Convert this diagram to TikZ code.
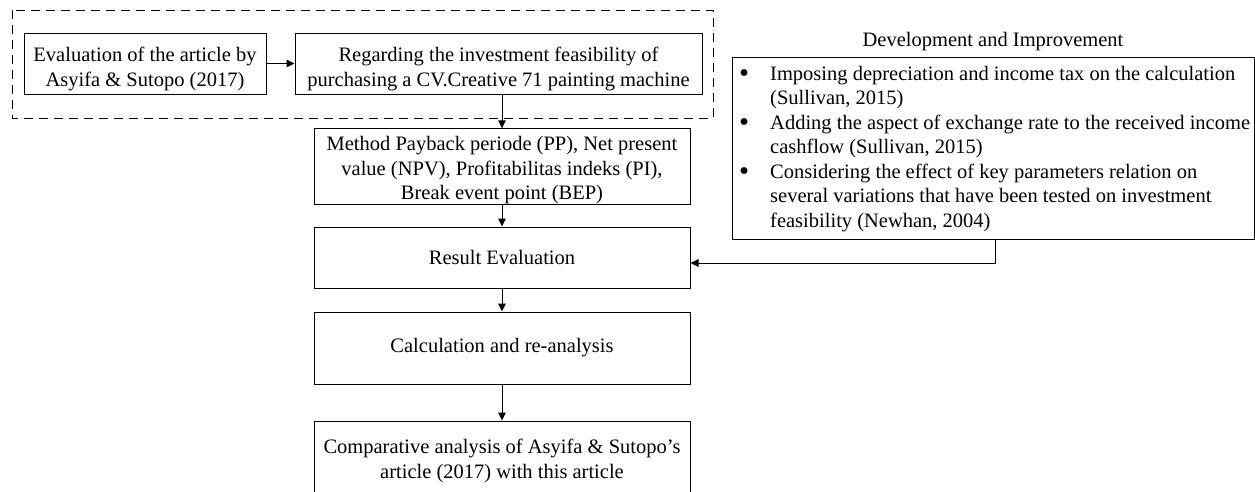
\documentclass[tikz,border=0pt]{standalone}
\usepackage{fontspec}
\setmainfont{Liberation Serif}
\usetikzlibrary{arrows.meta,calc}
\newcommand{\bigbul}{\raisebox{-2.2pt}{\scalebox{1.4}{\textbullet}}}
\begin{document}
\begin{tikzpicture}[x=1pt,y=-1pt,
  every node/.style={font=\fontsize{20.5}{24.5}\selectfont},
  stepbox/.style={draw=black,line width=1pt,rectangle,inner sep=0pt,align=center},
  arr/.style={draw=black,line width=1pt,-{Triangle[length=8pt,width=7.5pt]}},
  dashbox/.style={draw=black,line width=1pt,dash pattern=on 9pt off 6pt}
]
\useasboundingbox (0,0) rectangle (1255,491);
% dashed group
\draw[dashbox] (12,10) rectangle (713,118);
\node[stepbox,minimum width=242pt,minimum height=61pt] (eval) at (145,63.5)
  {\rule{0pt}{25pt}Evaluation of the article by\\Asyifa \& Sutopo (2017)};
\node[stepbox,minimum width=407pt,minimum height=61pt] (regard) at (498.5,63.5)
  {\rule{0pt}{25pt}Regarding the investment feasibility of\\purchasing a CV.Creative 71 painting machine};
\node[stepbox,minimum width=376pt,minimum height=73pt] (method) at (502,166.5)
  {\rule{0pt}{22pt}Method Payback periode (PP), Net present\\value (NPV), Profitabilitas indeks (PI),\\Break event point (BEP)};
\node[stepbox,minimum width=376pt,minimum height=61pt] (result) at (502,257.5)
  {Result Evaluation};
\node[stepbox,minimum width=376pt,minimum height=72pt] (calc) at (502,348)
  {Calculation and re-analysis};
\node[stepbox,minimum width=376pt,minimum height=72pt] (comp) at (502,457)
  {\rule{0pt}{22pt}Comparative analysis of Asyifa \& Sutopo’s\\article (2017) with this article};
% development box
\node (devtitle) at (993,42) {Development and Improvement};
\node[draw=black,line width=1pt,rectangle,inner sep=0pt,minimum width=522pt,minimum height=182pt] (dev) at (993,148) {};
\node[anchor=north west,inner sep=0pt,align=left] (devlist) at (739,63)
  {\begin{tabular}{@{}p{31pt}@{}l@{}}
  \bigbul & Imposing depreciation and income tax on the calculation\\
   & (Sullivan, 2015)\\
  \bigbul & Adding the aspect of exchange rate to the received income\\
   & cashflow (Sullivan, 2015)\\
  \bigbul & Considering the effect of key parameters relation on\\
   & several variations that have been tested on investment\\
   & feasibility (Newhan, 2004)
  \end{tabular}};
% connectors
\draw[arr] (eval.east) -- (regard.west);
\draw[arr] (method.north |- regard.south) -- (method.north);
\draw[arr] (method.south) -- (result.north);
\draw[arr] (result.south) -- (calc.north);
\draw[arr] (calc.south) -- (comp.north);
\coordinate (devdrop) at (995,263);
\draw[arr] (dev.south -| devdrop) -- (devdrop) -- (devdrop -| result.east);
\end{tikzpicture}
\end{document}
